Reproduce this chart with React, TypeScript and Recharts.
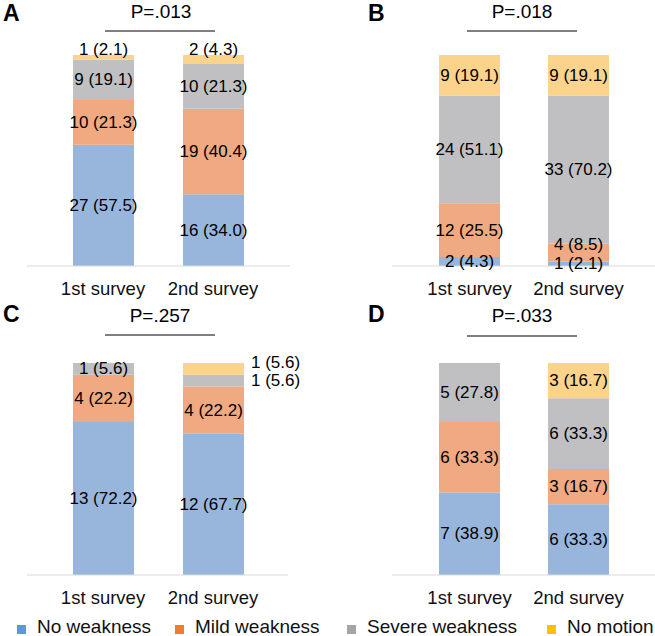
import React from "react";
import { BarChart, Bar, XAxis, YAxis, LabelList } from "recharts";

// categories and series
const categories = ["1st survey", "2nd survey"];
const seriesNames = ["No weakness", "Mild weakness", "Severe weakness", "No motion"];
const panelLetters = ["A", "B", "C", "D"];
const pValues = ["P=.013", "P=.018", "P=.257", "P=.033"];

// counts per panel: [1st survey, 2nd survey]
const noWeaknessN = [[27, 16], [2, 1], [13, 12], [7, 6]];
const mildWeaknessN = [[10, 19], [12, 4], [4, 4], [6, 3]];
const severeWeaknessN = [[9, 10], [24, 33], [1, 1], [5, 6]];
const noMotionN = [[1, 2], [9, 9], [0, 1], [0, 3]];

// percentages shown in the labels
const noWeaknessPct = [[57.5, 34.0], [4.3, 2.1], [72.2, 67.7], [38.9, 33.3]];
const mildWeaknessPct = [[21.3, 40.4], [25.5, 8.5], [22.2, 22.2], [33.3, 16.7]];
const severeWeaknessPct = [[19.1, 21.3], [51.1, 70.2], [5.6, 5.6], [27.8, 33.3]];
const noMotionPct = [[2.1, 4.3], [19.1, 19.1], [0, 5.6], [0, 16.7]];

const COUNTS = [noWeaknessN, mildWeaknessN, severeWeaknessN, noMotionN];
const PCTS = [noWeaknessPct, mildWeaknessPct, severeWeaknessPct, noMotionPct];
const KEYS = ["s0", "s1", "s2", "s3"];

const BAR_COLORS = ["#98b6dc", "#f0a981", "#c0c0c3", "#fcd38b"];
const LEGEND_COLORS = ["#5b9bd5", "#ed7d31", "#a5a5a5", "#ffc000"];
const LEGEND_X = [17, 175, 347, 547];
const FONT = "'Liberation Sans', Arial, sans-serif";
const AXIS_COLOR = "#d9d9d9";

const panelData = panelLetters.map((_, p) =>
  categories.map((name, i) => {
    const row: any = { name, cat: i };
    KEYS.forEach((k, s) => {
      const n = COUNTS[s][p][i];
      row[k] = n;
      row[k + "Label"] = n ? `${n} (${PCTS[s][p][i].toFixed(1)})` : "";
    });
    return row;
  })
);

// chart boxes (page coordinates)
const boxes = [
  { left: 0, top: 0, width: 327, height: 300, margin: { top: 55, right: 37, left: 27, bottom: 4 }, pad: { left: 21, right: 22 } },
  { left: 330, top: 0, width: 325, height: 300, margin: { top: 55, right: 0, left: 62, bottom: 4 }, pad: { left: 23, right: 22 } },
  { left: 0, top: 300, width: 327, height: 310, margin: { top: 63, right: 39, left: 27, bottom: 5 }, pad: { left: 21, right: 20 } },
  { left: 330, top: 300, width: 325, height: 310, margin: { top: 63, right: 0, left: 62, bottom: 5 }, pad: { left: 23, right: 22 } },
];

const makeLabel = (panel: number, series: number) => (props: any) => {
  const vb = props.viewBox ?? props;
  const { x, y, width, height } = vb;
  const row = props.value;
  if (!row || typeof row !== "object") return null;
  const text = row[KEYS[series] + "Label"];
  if (!text) return null;
  const cat = row.cat;
  const top = Math.min(y, y + height);
  const h = Math.abs(height);
  let cx = x + width / 2;
  let cy = top + h / 2;
  let anchor = "middle";
  if (panel === 0 && series === 3) cy = top - 6;
  if (panel === 1 && cat === 1 && series === 1) cy -= 8;
  if (panel === 2 && cat === 1 && series >= 2) {
    cx = x + width + 7;
    anchor = "start";
    if (series === 3) cy -= 6;
  }
  return (
    <text x={cx} y={cy} textAnchor={anchor} dominantBaseline="central" fontSize={17} fill="#000" fontFamily={FONT}>
      {text}
    </text>
  );
};

const CategoryTick = (props: any) => {
  const { x, y, payload } = props;
  return (
    <text x={x} y={y} dy={14} textAnchor="middle" dominantBaseline="central" fontSize={18.5} fill="#111" fontFamily={FONT}>
      {payload.value}
    </text>
  );
};

const Panel = ({ p }: { p: number }) => {
  const b = boxes[p];
  return (
    <div style={{ position: "absolute", left: b.left, top: b.top }}>
      <BarChart width={b.width} height={b.height} data={panelData[p]} margin={b.margin} stackOffset="expand">
        <XAxis dataKey="name" padding={b.pad} tickLine={false} axisLine={{ stroke: AXIS_COLOR }} tick={<CategoryTick />} interval={0} />
        <YAxis width={0} domain={[0, 1]} tick={false} tickLine={false} axisLine={{ stroke: AXIS_COLOR }} />
        {KEYS.map((k, s) => (
          <Bar key={k} dataKey={k} stackId="a" fill={BAR_COLORS[s]} barSize={61} isAnimationActive={false}>
            <LabelList dataKey={(d: any) => d} content={makeLabel(p, s)} />
          </Bar>
        ))}
      </BarChart>
    </div>
  );
};

// annotation positions (letter x, baseline y, title center x, line y)
const annot = [
  { lx: 3, ly: 21, tx: 161, ty: 18, x1: 105, x2: 215, y: 31 },
  { lx: 368, ly: 21, tx: 522, ty: 18, x1: 467, x2: 577, y: 31 },
  { lx: 3, ly: 322, tx: 160, ty: 322, x1: 105, x2: 215, y: 335 },
  { lx: 368, ly: 322, tx: 522, ty: 322, x1: 467, x2: 577, y: 336 },
];

export default function App() {
  return (
    <div style={{ position: "absolute", left: 0, top: 0, width: 655, height: 636, background: "#fff", fontFamily: FONT }}>
      {panelLetters.map((_, p) => (
        <Panel key={p} p={p} />
      ))}
      <svg width={655} height={636} style={{ position: "absolute", left: 0, top: 0, pointerEvents: "none" }}>
        {annot.map((a, p) => (
          <g key={p}>
            <text x={a.lx} y={a.ly} fontSize={23} fontWeight="bold" fontFamily={FONT} fill="#000">
              {panelLetters[p]}
            </text>
            <text x={a.tx} y={a.ty} fontSize={19} textAnchor="middle" fontFamily={FONT} fill="#000">
              {pValues[p]}
            </text>
            <line x1={a.x1} x2={a.x2} y1={a.y} y2={a.y} stroke="#000" strokeWidth={1.2} />
          </g>
        ))}
      </svg>
      {seriesNames.map((n, s) => (
        <div
          key={n}
          style={{ position: "absolute", left: LEGEND_X[s], top: 616, display: "flex", alignItems: "center", fontSize: 19, color: "#111", whiteSpace: "nowrap" }}
        >
          <span style={{ display: "inline-block", width: 9, height: 9, background: LEGEND_COLORS[s], marginRight: 11, marginTop: 4 }} />
          <span>{n}</span>
        </div>
      ))}
    </div>
  );
}
